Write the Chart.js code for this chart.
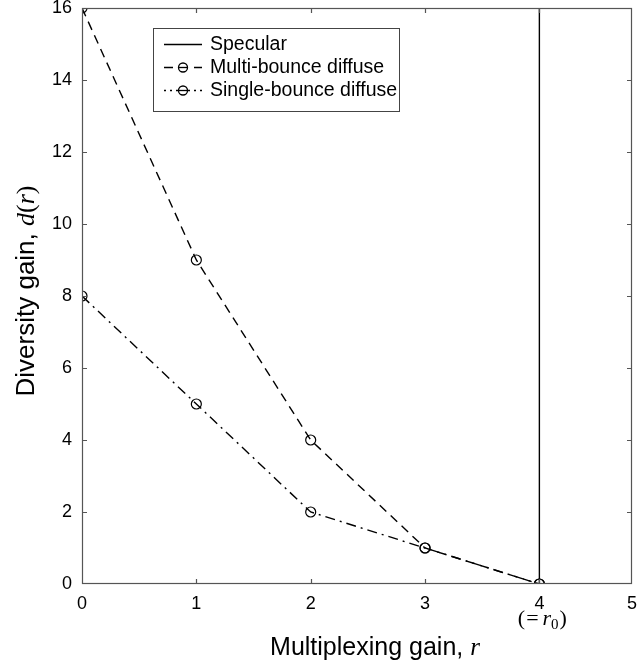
<!DOCTYPE html>
<html>
<head>
<meta charset="utf-8">
<script src="https://cdn.jsdelivr.net/npm/chart.js@4.4.1/dist/chart.umd.min.js"></script>
<style>
  html, body { margin: 0; padding: 0; background: #fff; }
  #wrap { width: 640px; height: 669px; position: relative; }
</style>
</head>
<body>
<div id="wrap"><canvas id="dmt"></canvas></div>
<script>
// multiplexing gain r and the diversity gain curves
const rValues = [0, 1, 2, 3, 4];
const multiBounce = [16, 9, 4, 1, 0];
const singleBounce = [8, 5, 2, 1, 0];
const specularR = [4, 4];
const specularD = [0, 16];

const xTickValues = [0, 1, 2, 3, 4, 4.81];   // right edge of the frame is cut short, labelled 5
const xTickLabels = ['0', '1', '2', '3', '4', '5'];
const yTickValues = [0, 2, 4, 6, 8, 10, 12, 14, 16];

const sans = '"Liberation Sans", Arial, sans-serif';
const serif = '"Liberation Serif", "Times New Roman", serif';

function toPoints(xs, ys)
{
    return xs.map((x, i) => { return { x: x, y: ys[i] } });
}

// draws a list of [text, font, dy, gap] pieces one after the other, returns total width
function pieces(ctx, parts, x, y, measureOnly)
{
    let cx = x;
    for (let p of parts)
    {
        ctx.font = p[1];
        if (!measureOnly) ctx.fillText(p[0], cx, y + (p[2] || 0));
        cx += ctx.measureText(p[0]).width + (p[3] || 0);
    }
    return cx - x;
}

function noEdgePadding(scale)
{
    scale.paddingTop = 0;
    scale.paddingBottom = 0;
    scale.paddingLeft = 0;
    scale.paddingRight = 0;
}

// frame, inward ticks, titles and legend
const decorations = {
    id: 'decorations',
    afterDraw(chart)
    {
        let ctx = chart.ctx;
        let a = chart.chartArea;
        let xs = chart.scales.x;
        let ys = chart.scales.y;
        ctx.save();
        ctx.strokeStyle = '#555';
        ctx.lineWidth = 1.2;
        ctx.strokeRect(a.left + 0.5, a.top + 0.5, a.right - a.left - 1, a.bottom - a.top - 1);
        ctx.beginPath();
        for (let v of xTickValues.slice(1, 5))
        {
            let px = Math.round(xs.getPixelForValue(v)) + 0.5;
            ctx.moveTo(px, a.bottom); ctx.lineTo(px, a.bottom - 5);
            ctx.moveTo(px, a.top); ctx.lineTo(px, a.top + 5);
        }
        for (let v of yTickValues.slice(1, 8))
        {
            let py = Math.round(ys.getPixelForValue(v)) + 0.5;
            ctx.moveTo(a.left, py); ctx.lineTo(a.left + 5, py);
            ctx.moveTo(a.right, py); ctx.lineTo(a.right - 5, py);
        }
        ctx.stroke();

        ctx.fillStyle = '#000';
        ctx.textBaseline = 'alphabetic';
        ctx.textAlign = 'left';

        // x title
        let xt = [['Multiplexing gain, ', '25px ' + sans], ['r', 'italic 25px ' + serif]];
        let wx = pieces(ctx, xt, 0, 0, true);
        pieces(ctx, xt, 375 - wx / 2, 655);

        // (=r0) under tick 4
        let rz = [['(', '22px ' + serif, 0, 1], ['=', '22px ' + serif, 0, 4],
                  ['r', 'italic 22px ' + serif, 0, 0], ['0', '15px ' + serif, 4, 1],
                  [')', '22px ' + serif]];
        let wz = pieces(ctx, rz, 0, 0, true);
        pieces(ctx, rz, xs.getPixelForValue(4) + 3 - wz / 2, 625);

        // y title, rotated
        ctx.save();
        ctx.translate(34, 291);
        ctx.rotate(-Math.PI / 2);
        let yt = [['Diversity gain, ', '26px ' + sans], ['d', 'italic 26px ' + serif],
                  ['(', '26px ' + serif], ['r', 'italic 26px ' + serif], [')', '26px ' + serif]];
        let wy = pieces(ctx, yt, 0, 0, true);
        pieces(ctx, yt, -wy / 2, 0);
        ctx.restore();

        // legend
        let lx = 153, ly = 28, lw = 246, lh = 83;
        ctx.fillStyle = '#fff';
        ctx.fillRect(lx, ly, lw, lh);
        ctx.strokeStyle = '#444';
        ctx.lineWidth = 1;
        ctx.strokeRect(lx + 0.5, ly + 0.5, lw, lh);
        let rows = [
            { text: 'Specular', dash: [], marker: false },
            { text: 'Multi-bounce diffuse', dash: [9, 6], marker: true },
            { text: 'Single-bounce diffuse', dash: [2, 4], marker: true }
        ];
        ctx.strokeStyle = '#000';
        ctx.lineWidth = 1.3;
        rows.forEach((row, i) =>
        {
            let yy = ly + 16 + i * 23;
            ctx.setLineDash(row.dash);
            ctx.beginPath();
            ctx.moveTo(164, yy + 0.5);
            ctx.lineTo(202, yy + 0.5);
            ctx.stroke();
            ctx.setLineDash([]);
            if (row.marker)
            {
                ctx.fillStyle = '#fff';
                ctx.beginPath();
                ctx.arc(183, yy + 0.5, 4.5, 0, Math.PI * 2);
                ctx.fill();
                ctx.stroke();
                ctx.beginPath();
                ctx.moveTo(178, yy + 0.5); ctx.lineTo(188, yy + 0.5);
                ctx.stroke();
            }
            ctx.fillStyle = '#000';
            ctx.font = '19.5px ' + sans;
            ctx.textBaseline = 'middle';
            ctx.fillText(row.text, 210, yy + 1);
            ctx.textBaseline = 'alphabetic';
        });
        ctx.restore();
    }
};

let canvasElement = document.getElementById('dmt');

const lineData = {
    datasets: [{
        label: 'Specular',
        data: toPoints(specularR, specularD),
        borderColor: '#000',
        borderWidth: 1.4,
        pointRadius: 0,
        showLine: true
    }, {
        label: 'Multi-bounce diffuse',
        data: toPoints(rValues, multiBounce),
        borderColor: '#000',
        borderWidth: 1.4,
        borderDash: [9, 6],
        pointRadius: 5,
        pointBorderWidth: 1.2,
        pointBackgroundColor: 'rgba(0,0,0,0)',
        pointBorderColor: '#000',
        showLine: true
    }, {
        label: 'Single-bounce diffuse',
        data: toPoints(rValues, singleBounce),
        borderColor: '#000',
        borderWidth: 1.4,
        borderDash: [10, 5, 2, 5],
        pointRadius: 5,
        pointBorderWidth: 1.2,
        pointBackgroundColor: 'rgba(0,0,0,0)',
        pointBorderColor: '#000',
        showLine: true
    }]
};

var config = {
    type: 'scatter',
    data: lineData,
    options: {
        responsive: true,
        maintainAspectRatio: false,
        animation: false,
        layout: { padding: { top: 8, right: 8, left: 0, bottom: 0 } },
        plugins: { legend: { display: false }, tooltip: { enabled: false } },
        scales: {
            x: {
                type: 'linear',
                min: 0,
                max: 4.81,
                grid: { display: false, drawTicks: false },
                border: { display: false },
                afterBuildTicks: (scale) => { scale.ticks = xTickValues.map((v) => { return { value: v } }) },
                afterFit: (scale) => { scale.height = 85; noEdgePadding(scale) },
                ticks: {
                    color: '#000',
                    font: { family: sans, size: 18 },
                    padding: 9,
                    maxRotation: 0,
                    autoSkip: false,
                    callback: (v, i) => xTickLabels[i]
                }
            },
            y: {
                type: 'linear',
                min: 0,
                max: 16,
                grid: { display: false, drawTicks: false },
                border: { display: false },
                afterBuildTicks: (scale) => { scale.ticks = yTickValues.map((v) => { return { value: v } }) },
                afterFit: (scale) => { scale.width = 82; noEdgePadding(scale) },
                ticks: {
                    color: '#000',
                    font: { family: sans, size: 18 },
                    padding: 10,
                    autoSkip: false
                }
            }
        }
    },
    plugins: [decorations]
};

var dmtChart = new Chart(canvasElement, config);
</script>
</body>
</html>
